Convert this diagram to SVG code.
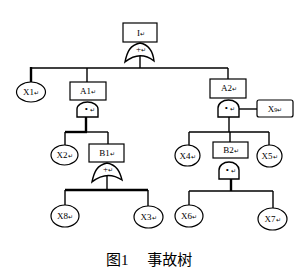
<svg xmlns="http://www.w3.org/2000/svg" width="305" height="276" viewBox="0 0 305 276">
<style>
.b{fill:#fff;stroke:#000;stroke-width:1.2}
.g{fill:#fff;stroke:#000;stroke-width:1.4}
.c{stroke:#000;stroke-width:1.4;fill:none}
.t{stroke:#000;stroke-width:2.4;fill:none}
.l{font-family:"Liberation Serif",serif;font-size:9px;fill:#000;text-anchor:middle}
.m{font-size:6px}
.cap{font-family:"Liberation Serif","Noto Sans CJK SC",serif;font-size:15px;fill:#000}
</style>
<rect width="305" height="276" fill="#fff"/>
<g id="connectors">
<line class="c" x1="140" y1="56" x2="140" y2="68"/>
<line class="c" x1="31" y1="68" x2="228" y2="68"/>
<line class="t" x1="31" y1="67" x2="31" y2="82"/>
<line class="c" x1="87" y1="68" x2="87" y2="82"/>
<line class="c" x1="228" y1="68" x2="228" y2="79"/>
<line class="t" x1="86" y1="117" x2="86" y2="132"/>
<line class="t" x1="65" y1="132" x2="87" y2="132"/>
<line class="c" x1="86" y1="132" x2="108" y2="132"/>
<line class="c" x1="65" y1="132" x2="65" y2="145"/>
<line class="c" x1="108" y1="132" x2="108" y2="144"/>
<line class="c" x1="107" y1="176" x2="107" y2="190"/>
<line class="t" x1="65" y1="190" x2="148" y2="190"/>
<line class="c" x1="65" y1="190" x2="65" y2="205"/>
<line class="c" x1="148" y1="190" x2="148" y2="206"/>
<line class="c" x1="239" y1="109" x2="257" y2="109"/>
<line class="c" x1="229" y1="117" x2="229" y2="132"/>
<line class="c" x1="189" y1="132" x2="269" y2="132"/>
<line class="c" x1="189" y1="132" x2="189" y2="145"/>
<line class="c" x1="230" y1="132" x2="230" y2="142"/>
<line class="c" x1="269" y1="132" x2="269" y2="145"/>
<line class="t" x1="231" y1="179" x2="231" y2="191"/>
<line class="c" x1="189" y1="191" x2="273" y2="191"/>
<line class="c" x1="189" y1="191" x2="189" y2="205"/>
<line class="c" x1="273" y1="191" x2="273" y2="208"/>
</g>
<g id="I">
<rect class="b" x="123" y="23" width="34" height="19"/>
<text class="l" x="141" y="36">I<tspan class="m">↵</tspan></text>
</g>
<g id="gate-I">
<path class="g" d="M125,62 C127,52 130,45 140,43 C150,45 153,52 154,61 Q140,50 125,62 Z"/>
<text class="l" x="141" y="52">+<tspan class="m">↵</tspan></text>
</g>
<g id="X1">
<ellipse class="b" cx="31" cy="92" rx="14.5" ry="10"/>
<text class="l" x="31" y="95">X1<tspan class="m">↵</tspan></text>
</g>
<g id="A1">
<rect class="b" x="70" y="82" width="36" height="18"/>
<text class="l" x="88" y="94">A1<tspan class="m">↵</tspan></text>
</g>
<g id="gate-A1">
<path class="g" d="M77,117 L77,109 A10.5,7 0 0 1 98,109 L98,117 Z"/>
<text class="l" x="90" y="112">• <tspan class="m">↵</tspan></text>
</g>
<g id="X2">
<ellipse class="b" cx="64.5" cy="155" rx="13.5" ry="10"/>
<text class="l" x="64.5" y="158">X2<tspan class="m">↵</tspan></text>
</g>
<g id="B1">
<rect class="b" x="89" y="144" width="35" height="18"/>
<text class="l" x="107" y="156">B1<tspan class="m">↵</tspan></text>
</g>
<g id="gate-B1">
<path class="g" d="M92,182 C94,172 97,165 107,163 C117,165 120,172 122,180 Q107,170 92,182 Z"/>
<text class="l" x="108" y="172">+<tspan class="m">↵</tspan></text>
</g>
<g id="X8">
<ellipse class="b" cx="65" cy="216" rx="14" ry="11"/>
<text class="l" x="65" y="219">X8<tspan class="m">↵</tspan></text>
</g>
<g id="X3">
<ellipse class="b" cx="148.5" cy="217" rx="14.5" ry="11"/>
<text class="l" x="148.5" y="220">X3<tspan class="m">↵</tspan></text>
</g>
<g id="A2">
<rect class="b" x="210" y="79" width="36" height="19"/>
<text class="l" x="229" y="91">A2<tspan class="m">↵</tspan></text>
</g>
<g id="gate-A2">
<path class="g" d="M218,117 L218,108 A10.5,8 0 0 1 239,108 L239,117 Z"/>
<text class="l" x="230" y="111">• <tspan class="m">↵</tspan></text>
</g>
<g id="X9">
<rect class="b" x="257" y="100" width="36" height="17" rx="2"/>
<text class="l" x="275" y="112">X<tspan class="m">9</tspan><tspan class="m">↵</tspan></text>
</g>
<g id="X4">
<ellipse class="b" cx="187.5" cy="155.5" rx="12.5" ry="10.5"/>
<text class="l" x="187.5" y="158.5">X4<tspan class="m">↵</tspan></text>
</g>
<g id="B2">
<rect class="b" x="213" y="142" width="35" height="16"/>
<text class="l" x="231" y="153">B2<tspan class="m">↵</tspan></text>
</g>
<g id="gate-B2">
<path class="g" d="M219,179 L219,170 A10,8 0 0 1 239,170 L239,179 Z"/>
<text class="l" x="231" y="173">• <tspan class="m">↵</tspan></text>
</g>
<g id="X5">
<ellipse class="b" cx="269.5" cy="156" rx="12.5" ry="11"/>
<text class="l" x="269.5" y="159">X5<tspan class="m">↵</tspan></text>
</g>
<g id="X6">
<ellipse class="b" cx="189" cy="216" rx="14" ry="11"/>
<text class="l" x="189" y="219">X6<tspan class="m">↵</tspan></text>
</g>
<g id="X7">
<ellipse class="b" cx="272.5" cy="219" rx="14.5" ry="11"/>
<text class="l" x="272.5" y="222">X7<tspan class="m">↵</tspan></text>
</g>
<text class="cap" x="106" y="265">图1　 事故树</text>
</svg>
